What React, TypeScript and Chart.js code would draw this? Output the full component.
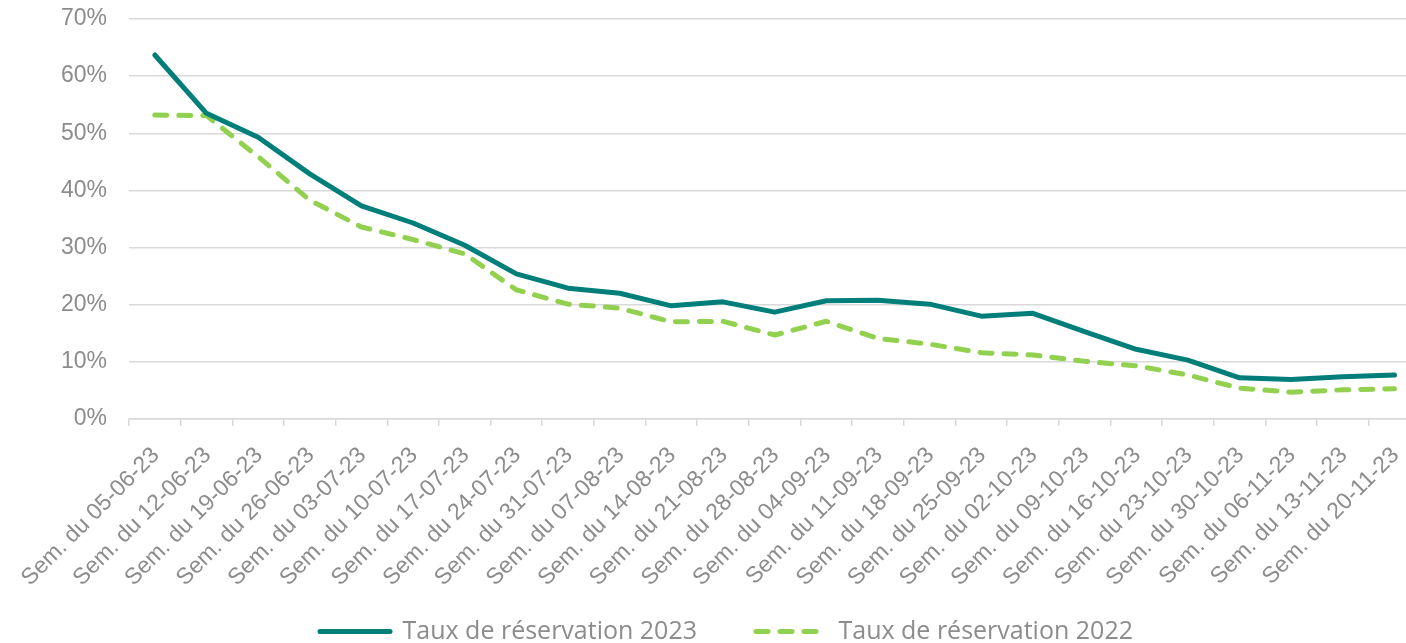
import React, { useEffect, useRef } from 'react';
import { Chart, registerables } from 'chart.js';

Chart.register(...registerables);

const weeks = [
  '05-06-23', '12-06-23', '19-06-23', '26-06-23', '03-07-23', '10-07-23', '17-07-23',
  '24-07-23', '31-07-23', '07-08-23', '14-08-23', '21-08-23', '28-08-23', '04-09-23',
  '11-09-23', '18-09-23', '25-09-23', '02-10-23', '09-10-23', '16-10-23', '23-10-23',
  '30-10-23', '06-11-23', '13-11-23', '20-11-23',
];
const categories = weeks.map((w) => `Sem. du ${w}`);

const rate2023 = [
  63.7, 53.5, 49.3, 42.9, 37.3, 34.3, 30.4, 25.4, 22.9, 22.0, 19.8, 20.5, 18.7,
  20.7, 20.8, 20.1, 18.0, 18.5, 15.3, 12.2, 10.3, 7.2, 6.9, 7.4, 7.7,
];
const rate2022 = [
  53.2, 53.1, 45.9, 38.3, 33.6, 31.4, 28.9, 22.6, 20.1, 19.4, 17.0, 17.1, 14.7,
  17.1, 14.1, 13.1, 11.6, 11.2, 10.1, 9.3, 7.7, 5.4, 4.7, 5.1, 5.3,
];

const seriesNames = ['Taux de réservation 2023', 'Taux de réservation 2022'];
const yMin = 0;
const yMax = 70;
const yStep = 10;

const axisGray = '#8c8c8c';
const gridGray = '#d9d9d9';
const tickFont = { family: '"Liberation Sans", Arial, sans-serif', size: 23 };
const LINE_W = 5;

// keep the rotated x labels visible below the axis box (they overlap the legend band)
const labelClipPlugin = {
  id: 'labelClip',
  afterLayout(chart: any) {
    const s = chart.scales.x;
    if (s) s.bottom = chart.height;
  },
};

export default function App() {
  const ref = useRef<HTMLCanvasElement>(null);

  useEffect(() => {
    if (!ref.current) return;
    const chart = new Chart(ref.current, {
      type: 'line',
      data: {
        labels: categories,
        datasets: [
          {
            label: seriesNames[0],
            data: rate2023,
            borderColor: '#007F7A',
            backgroundColor: '#007F7A',
            borderWidth: LINE_W,
            pointRadius: 0,
            tension: 0,
            borderCapStyle: 'round',
            borderJoinStyle: 'round',
          },
          {
            label: seriesNames[1],
            data: rate2022,
            borderColor: '#92D050',
            backgroundColor: '#92D050',
            borderWidth: LINE_W,
            borderDash: [12, 12],
            pointRadius: 0,
            tension: 0,
            borderCapStyle: 'round',
            borderJoinStyle: 'round',
          },
        ],
      },
      plugins: [labelClipPlugin],
      options: {
        animation: false,
        responsive: true,
        maintainAspectRatio: false,
        layout: { padding: { left: 23, top: 19, right: 0, bottom: 0 } },
        plugins: {
          legend: {
            position: 'bottom',
            labels: {
              usePointStyle: true,
              pointStyle: 'line',
              pointStyleWidth: 70,
              padding: 59,
              color: axisGray,
              font: { family: '"Open Sans", sans-serif', size: 25 },
              generateLabels: (c: any) => {
                const items = Chart.defaults.plugins.legend.labels.generateLabels(c);
                return items.map((it: any) => {
                  const ds: any = c.data.datasets[it.datasetIndex];
                  return {
                    ...it,
                    lineDash: ds.borderDash || [],
                    lineWidth: LINE_W,
                    lineCap: 'round',
                    strokeStyle: ds.borderColor,
                    fillStyle: ds.borderColor,
                  };
                });
              },
            },
          },
          tooltip: { enabled: false },
        },
        scales: {
          x: {
            offset: true,
            grid: {
              display: true,
              drawOnChartArea: false,
              drawTicks: true,
              tickLength: 7,
              color: gridGray,
              lineWidth: 1.5,
              offset: true,
            },
            border: { display: true, color: gridGray, width: 1.5 },
            ticks: {
              autoSkip: false,
              minRotation: 45,
              maxRotation: 45,
              padding: 16,
              labelOffset: 1,
              color: axisGray,
              font: tickFont,
            },
            afterFit: (s: any) => {
              s.height = 141;
            },
          },
          y: {
            min: yMin,
            max: yMax,
            ticks: {
              stepSize: yStep,
              padding: 0,
              color: axisGray,
              font: tickFont,
              callback: (v: any) => `${v}%`,
            },
            grid: {
              color: gridGray,
              lineWidth: 1.5,
              drawTicks: true,
              tickLength: 22,
              tickColor: 'rgba(0,0,0,0)',
            },
            border: { display: false },
            afterFit: (s: any) => {
              s.width = 106;
            },
          },
        },
      },
    });
    return () => chart.destroy();
  }, []);

  return (
    <div
      style={{
        position: 'absolute',
        left: 0,
        top: 0,
        width: 1406,
        height: 643,
        overflow: 'hidden',
        background: '#ffffff',
      }}
    >
      <div style={{ position: 'relative', width: 1430, height: 654 }}>
        <canvas ref={ref} />
      </div>
    </div>
  );
}
